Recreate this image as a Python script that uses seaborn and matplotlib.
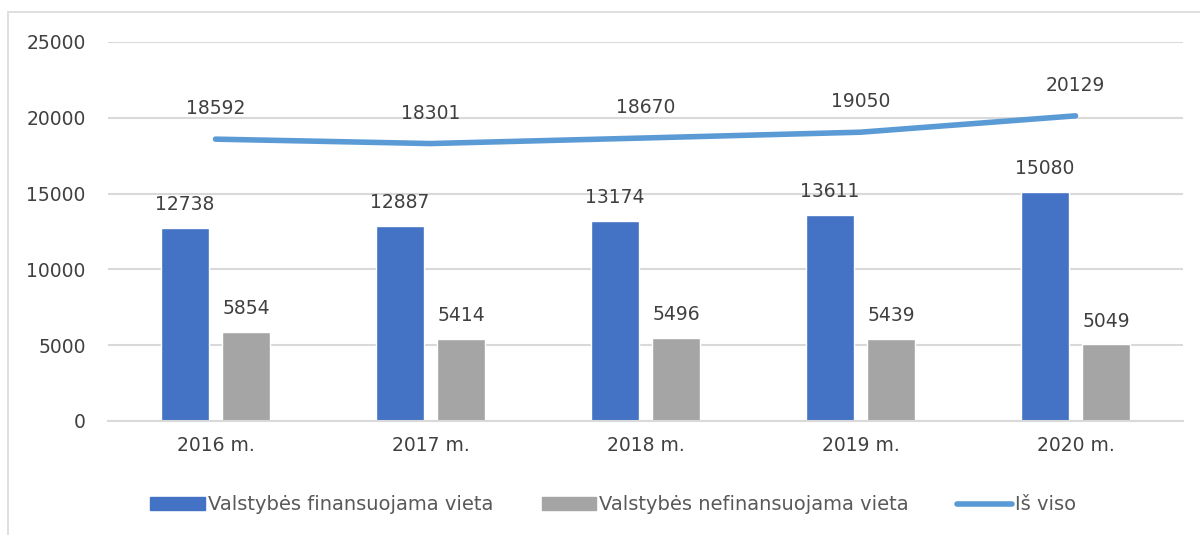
import matplotlib.pyplot as plt
import numpy as np
import pandas as pd
import seaborn as sns
from matplotlib.patches import Rectangle

years = ["2016 m.", "2017 m.", "2018 m.", "2019 m.", "2020 m."]
funded = [12738, 12887, 13174, 13611, 15080]
unfunded = [5854, 5414, 5496, 5439, 5049]
total = [18592, 18301, 18670, 19050, 20129]
series_names = ["Valstybės finansuojama vieta", "Valstybės nefinansuojama vieta", "Iš viso"]

BLUE = "#4472C4"
GRAY = "#A5A5A5"
LINE = "#5B9BD5"
TEXT = "#404040"
GRID = "#D9D9D9"

sns.set_style("white")
plt.rcParams["font.family"] = ["DejaVu Sans"]

bars = pd.DataFrame(
    {
        "year": years * 2,
        "value": funded + unfunded,
        "series": [series_names[0]] * len(years) + [series_names[1]] * len(years),
    }
)

fig = plt.figure(figsize=(12, 5.35), dpi=100)
ax = fig.add_axes([108 / 1200, 1 - 421 / 535, 1075 / 1200, 379 / 535])

# outer chart frame
fig.patches.append(
    Rectangle((8 / 1200, -0.05), 1.2, 1 - 12 / 535 + 0.05, transform=fig.transFigure,
              fill=False, edgecolor="#D9D9D9", linewidth=1.2)
)

sns.barplot(
    data=bars, x="year", y="value", hue="series", order=years,
    hue_order=series_names[:2], palette=[BLUE, GRAY],
    width=0.567, gap=0.21, saturation=1, legend=False, ax=ax,
)
sns.lineplot(x=np.arange(len(years)), y=total, color=LINE, linewidth=4,
             solid_capstyle="round", ax=ax)

for container in ax.containers:
    ax.bar_label(container, labels=[str(int(v)) for v in container.datavalues],
                 padding=10, fontsize=13.5, color=TEXT)

for i, v in enumerate(total):
    ax.annotate(str(v), (i, v), xytext=(0, 22), textcoords="offset points",
                ha="center", va="center", fontsize=13.5, color=TEXT)

ax.set_xlim(-0.5, len(years) - 0.5)
ax.set_ylim(0, 25000)
ax.set_yticks(range(0, 25001, 5000))
ax.yaxis.grid(True, color=GRID, linewidth=1.5)
ax.set_axisbelow(True)
for side in ["top", "right", "left"]:
    ax.spines[side].set_visible(False)
ax.spines["bottom"].set_color(GRID)
ax.spines["bottom"].set_linewidth(1.5)
ax.tick_params(axis="both", length=0, labelsize=13.5, labelcolor=TEXT)
ax.tick_params(axis="x", pad=11)
ax.tick_params(axis="y", pad=16)
ax.set_xlabel("")
ax.set_ylabel("")

handles = [
    Rectangle((0, 0), 1, 1, color=BLUE),
    Rectangle((0, 0), 1, 1, color=GRAY),
    plt.Line2D([0], [0], color=LINE, linewidth=4, solid_capstyle="round"),
]
fig.legend(
    handles, series_names, loc="center", bbox_to_anchor=(613 / 1200, 1 - 505 / 535),
    ncol=3, frameon=False, fontsize=14, labelcolor="#595959",
    handlelength=2.8, handleheight=0.62, handletextpad=0.15, columnspacing=2.5,
)

fig.savefig("out.png", dpi=100)
